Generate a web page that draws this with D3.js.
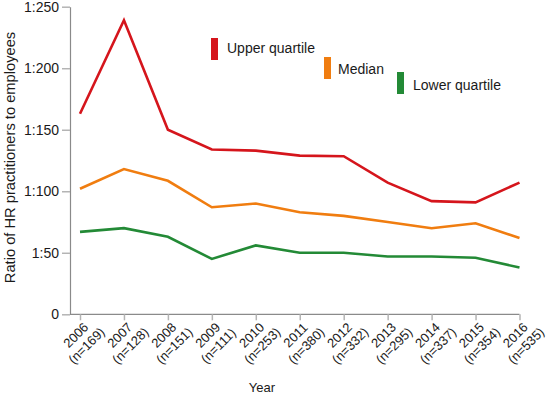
<!DOCTYPE html>
<html><head><meta charset="utf-8">
<script src="https://cdn.jsdelivr.net/npm/d3@7"></script>
<style>body{margin:0;background:#fff}svg{display:block}text{font-family:"Liberation Sans",Arial,sans-serif;fill:#1a1a1a}</style>
</head><body>
<script>
const years = ["2006","2007","2008","2009","2010","2011","2012","2013","2014","2015","2016"];
const sampleSizes = ["(n=169)","(n=128)","(n=151)","(n=111)","(n=253)","(n=380)","(n=332)","(n=295)","(n=337)","(n=354)","(n=535)"];
const upperQuartile = [163,239,150,134,133,129,128.5,107,92,91,107];
const median = [102,118,108.5,87,90,83,80,75,70,74,62];
const lowerQuartile = [67,70,63,45,56,50,50,47,47,46,38];
const yTicks = [0,50,100,150,200,250];
const yTickLabels = ["0","1:50","1:100","1:150","1:200","1:250"];
const seriesNames = ["Upper quartile","Median","Lower quartile"];
const seriesColors = ["#d5151c","#f07d10","#238a36"];

const W=550,H=397;
const svg=d3.select("body").append("svg").attr("width",W).attr("height",H);
const x0=70, xFirst=80, xLast=519.5, yTop=6.7, yBot=314.3;
const x=d3.scalePoint().domain(years).range([xFirst,xLast]);
const y=d3.scaleLinear().domain([0,250]).range([yBot,yTop]);

// y axis
const gy=svg.append("g").attr("transform",`translate(${x0},0)`)
  .call(d3.axisLeft(y).tickValues(yTicks).tickSize(8).tickSizeOuter(0).tickFormat((d,i)=>yTickLabels[i]));
gy.select(".domain").attr("stroke","#8a8a8a").attr("stroke-width",1.2);
gy.selectAll(".tick line").attr("stroke","#b4b4b4").attr("stroke-width",1.5);
gy.selectAll(".tick text").attr("font-size",14).attr("x",-11).attr("font-family","Liberation Sans, Arial").attr("fill","#1a1a1a");

// x axis
const gx=svg.append("g").attr("transform",`translate(0,${yBot})`);
gx.append("line").attr("x1",x0).attr("x2",xLast).attr("stroke","#8a8a8a").attr("stroke-width",1.2);
const xa=d3.axisBottom(x).tickSize(6).tickSizeOuter(0).tickFormat("");
const gxt=gx.append("g").call(xa);
gxt.select(".domain").remove();
gxt.selectAll(".tick line").attr("stroke","#b4b4b4").attr("stroke-width",1.5);
years.forEach((yr,i)=>{
  const t=gx.append("text").attr("transform",`translate(${x(yr)-1},${24}) rotate(-45)`)
    .attr("text-anchor","middle").attr("font-size",13);
  t.append("tspan").attr("x",0).attr("dy",0).text(yr);
  t.append("tspan").attr("x",0).attr("dy",15).text(sampleSizes[i]);
});

// axis titles
svg.append("text").attr("x",262).attr("y",392).attr("text-anchor","middle").attr("font-size",13).text("Year");
svg.append("text").attr("transform",`translate(15,${157.5}) rotate(-90)`).attr("text-anchor","middle").attr("font-size",14.7)
  .text("Ratio of HR practitioners to employees");

// lines
const line=d3.line().x((d,i)=>x(years[i])).y(d=>y(d));
[upperQuartile,median,lowerQuartile].forEach((s,k)=>{
  svg.append("path").datum(s).attr("d",line).attr("fill","none")
    .attr("stroke",seriesColors[k]).attr("stroke-width",2.6).attr("stroke-linejoin","miter");
});

// legend
const leg=[{x:211,y:38,tx:227,ty:53},{x:324,y:57,tx:338,ty:74},{x:397,y:72,tx:413,ty:90}];
leg.forEach((p,k)=>{
  svg.append("rect").attr("x",p.x).attr("y",p.y).attr("width",7).attr("height",22).attr("fill",seriesColors[k]);
  svg.append("text").attr("x",p.tx).attr("y",p.ty).attr("font-size",14).text(seriesNames[k]);
});
</script>
</body></html>
